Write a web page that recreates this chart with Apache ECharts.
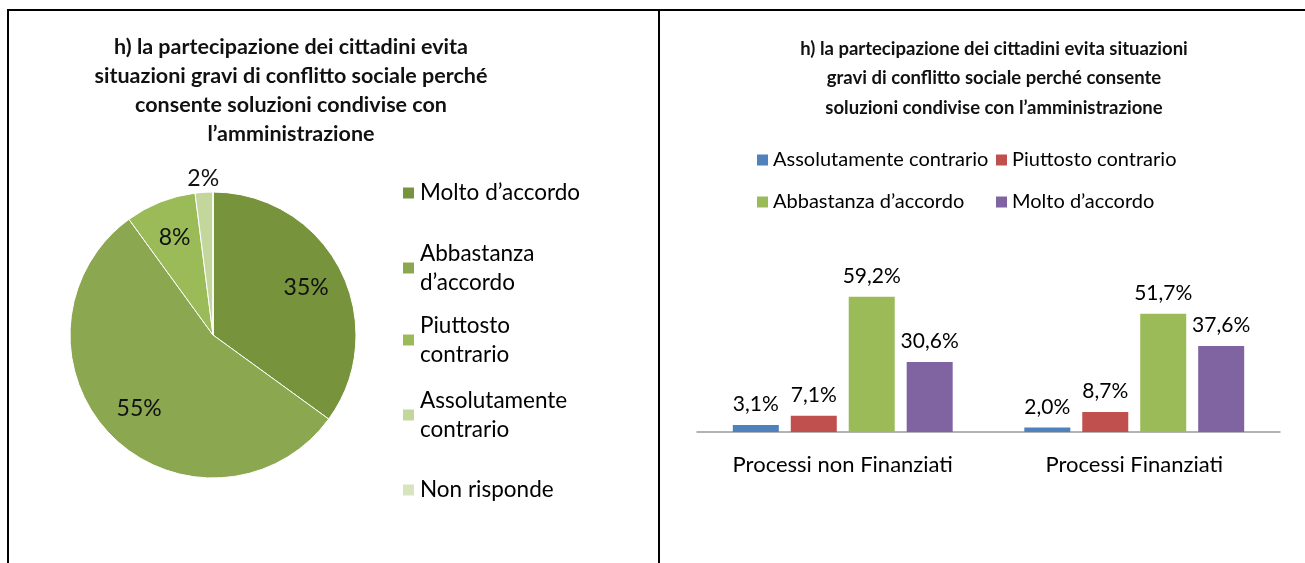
<!DOCTYPE html>
<html>
<head>
<meta charset="utf-8">
<title>h) la partecipazione dei cittadini</title>
<script src="https://cdn.jsdelivr.net/npm/echarts@6/dist/echarts.min.js"></script>
<style>
  body { margin: 0; background: #fff; }
  #wrap { position: relative; width: 1305px; height: 563px; overflow: hidden; }
  .line { position: absolute; background: #000; z-index: 2; }
  #pie { position: absolute; left: 0; top: 0; width: 658px; height: 563px; }
  #bar { position: absolute; left: 660px; top: 0; width: 645px; height: 563px; }
</style>
</head>
<body>
<div id="wrap">
  <div id="pie"></div>
  <div id="bar"></div>
  <div class="line" style="left:7px;top:9px;width:1298px;height:2px;"></div>
  <div class="line" style="left:7px;top:9px;width:2px;height:554px;"></div>
  <div class="line" style="left:658px;top:9px;width:2px;height:554px;"></div>
</div>
<script>
// dati torta
var pieNames = ['Molto d’accordo', 'Abbastanza d’accordo', 'Piuttosto contrario', 'Assolutamente contrario', 'Non risponde'];
var pieValues = [35, 55, 8, 2, 0];
var pieColors = ['#77933C', '#8BA74F', '#9BBB59', '#C3D69B', '#D7E4BD'];

// dati istogramma
var categories = ['Processi non Finanziati', 'Processi Finanziati'];
var barNames = ['Assolutamente contrario', 'Piuttosto contrario', 'Abbastanza d’accordo', 'Molto d’accordo'];
var assolutamente = [3.1, 2.0];
var piuttosto = [7.1, 8.7];
var abbastanza = [59.2, 51.7];
var molto = [30.6, 37.6];
var barColors = ['#4F81BD', '#C0504D', '#9BBB59', '#8064A2'];

var font = 'Lato, "Liberation Sans", sans-serif';

// grafico a torta
var chartPie = echarts.init(document.getElementById('pie'));

var total = pieValues.reduce(function(a, b) { return a + b; }, 0);
var acc = 0;
var pieData = pieValues.map(function(v, i) {
  var mid = (acc + v / 2) / total * 2 * Math.PI;
  acc += v;
  // etichette spostate verso l'esterno come in Excel
  var k = v < 5 ? 82 : 30;
  return {
    name: pieNames[i],
    value: v,
    itemStyle: { color: pieColors[i] },
    label: {
      show: v > 0,
      offset: [Math.sin(mid) * k, -Math.cos(mid) * k]
    }
  };
});

// una legenda per ogni voce
var pieLegendText = {
  'Abbastanza d’accordo': 'Abbastanza\nd’accordo',
  'Piuttosto contrario': 'Piuttosto\ncontrario',
  'Assolutamente contrario': 'Assolutamente\ncontrario'
};
var pieLegendY = [193, 268, 340, 415, 490];
var pieLegends = pieNames.map(function(name, i) {
  var twoLines = !!pieLegendText[name];
  return {
    data: [name],
    left: 401,
    top: pieLegendY[i] - (twoLines ? 44.25 : 14.75),
    padding: 0,
    itemWidth: 13,
    itemHeight: 13,
    itemGap: 0,
    icon: 'rect',
    selectedMode: false,
    formatter: function(n) { return pieLegendText[n] || n; },
    textStyle: {
      fontFamily: font,
      fontSize: 22.5,
      lineHeight: 29.5,
      color: '#000',
      padding: twoLines ? [29.5, 0, 0, 0] : 0
    }
  };
});

var option1 = {
  animation: false,
  title: {
    text: 'h) la partecipazione dei cittadini evita\nsituazioni gravi di conflitto sociale perché\nconsente soluzioni condivise con\nl’amministrazione',
    left: 291,
    top: 33,
    padding: 0,
    textAlign: 'center',
    textStyle: { fontFamily: font, fontSize: 21.5, fontWeight: 'bold', lineHeight: 29, color: '#111' }
  },
  legend: pieLegends,
  series: [{
    type: 'pie',
    center: [213, 335],
    radius: [0, 143],
    startAngle: 90,
    clockwise: true,
    data: pieData,
    itemStyle: { borderColor: '#fff', borderWidth: 1 },
    label: {
      position: 'inside',
      formatter: '{d}%',
      fontFamily: font,
      fontSize: 23,
      color: '#111'
    },
    labelLine: { show: false }
  }]
};
chartPie.setOption(option1);

// grafico a barre
var chartBar = echarts.init(document.getElementById('bar'));

var barLegendPos = [[97, 150], [336, 150], [97, 192], [336, 192]];
var barLegends = barNames.map(function(name, i) {
  return {
    data: [name],
    left: barLegendPos[i][0],
    top: barLegendPos[i][1],
    padding: 0,
    itemWidth: 11,
    itemHeight: 11,
    itemGap: 0,
    icon: 'rect',
    selectedMode: false,
    textStyle: { fontFamily: font, fontSize: 20, color: '#000' }
  };
});

function pct(p) {
  return p.value.toFixed(1).replace('.', ',') + '%';
}

var barValues = [assolutamente, piuttosto, abbastanza, molto];

var option2 = {
  animation: false,
  title: {
    text: 'h) la partecipazione dei cittadini evita situazioni\ngravi di conflitto sociale perché consente\nsoluzioni condivise con l’amministrazione',
    left: 334,
    top: 34,
    padding: 0,
    textAlign: 'center',
    textStyle: { fontFamily: font, fontSize: 18.5, fontWeight: 'bold', lineHeight: 29.5, color: '#111' }
  },
  legend: barLegends,
  grid: { left: 37, right: 25, top: 272, bottom: 131 },
  xAxis: {
    type: 'category',
    data: categories,
    axisLine: { lineStyle: { color: '#9a9a9a', width: 1.5 } },
    axisTick: { show: false },
    axisLabel: { margin: 22, fontFamily: font, fontSize: 22, color: '#000' }
  },
  yAxis: {
    type: 'value',
    min: 0,
    max: 70,
    show: false
  },
  series: barNames.map(function(name, i) {
    return {
      name: name,
      type: 'bar',
      data: barValues[i],
      barWidth: 46,
      barGap: '26%',
      itemStyle: { color: barColors[i] },
      label: {
        show: true,
        position: 'top',
        distance: 10,
        formatter: pct,
        fontFamily: font,
        fontSize: 21,
        color: '#000'
      }
    };
  })
};
chartBar.setOption(option2);
</script>
</body>
</html>
